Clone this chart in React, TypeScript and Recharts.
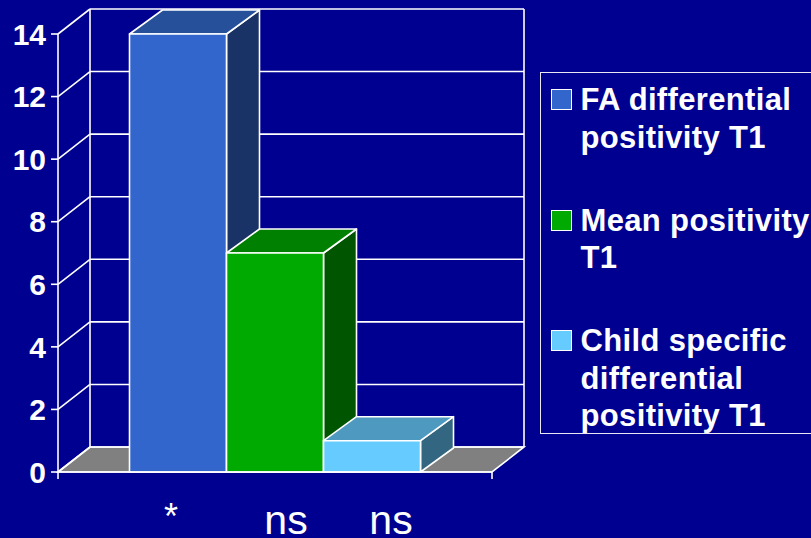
import { BarChart, Bar, XAxis, YAxis, CartesianGrid, Legend } from 'recharts';

const categories = ['T1'];
const faDifferential = [14];
const meanPositivity = [7];
const childSpecific = [1];
const yTicks = [0, 2, 4, 6, 8, 10, 12, 14];
const noteLabels = ['*', 'ns', 'ns'];

const data = categories.map((name, i) => ({
  name,
  fa: faDifferential[i],
  mean: meanPositivity[i],
  child: childSpecific[i],
}));

const BG = '#000090';
const LINE = '#ffffff';
const DX = 33;
const DY = 24;

function Bar3D(props: any) {
  const { x, y, width, height, fill, topFill, sideFill } = props;
  const top = `${x},${y} ${x + DX},${y - DY} ${x + width + DX},${y - DY} ${x + width},${y}`;
  const side = `${x + width},${y} ${x + width + DX},${y - DY} ${x + width + DX},${y + height - DY} ${x + width},${y + height}`;
  return (
    <g stroke={LINE} strokeWidth={1.6} strokeLinejoin="round">
      <polygon points={side} fill={sideFill} />
      <polygon points={top} fill={topFill} />
      <rect x={x} y={y} width={width} height={height} fill={fill} />
    </g>
  );
}

// back wall, side wall and floor follow the value axis gridlines
function WallLine(props: any) {
  const { x1, x2, y1, index } = props;
  const isFloor = y1 > 460;
  const isTop = y1 < 40;
  return (
    <g key={index} stroke={LINE} strokeWidth={1.6} fill="none">
      {isFloor && (
        <>
          <polygon
            points={`${x1},${y1} ${x1 + 32},${y1 - 25} ${x2 + 32},${y1 - 25} ${x2},${y1}`}
            fill="#808080"
          />
          <line x1={x2} y1={y1} x2={x2} y2={y1 + 7} />
          <line x1={x1} y1={y1} x2={x1} y2={y1 + 7} />
        </>
      )}
      {isTop && (
        <>
          <line x1={x1 + 32} y1={y1 - 25} x2={x1 + 32} y2={447} />
          <line x1={x2 + 32} y1={y1 - 25} x2={x2 + 32} y2={447} />
        </>
      )}
      <line x1={x1} y1={y1} x2={x1 + 32} y2={y1 - 25} />
      <line x1={x1 + 32} y1={y1 - 25} x2={x2 + 32} y2={y1 - 25} />
    </g>
  );
}

function LegendBox({ payload }: any) {
  return (
    <div
      style={{
        boxSizing: 'border-box',
        width: 275,
        height: 362,
        border: '1.5px solid #e8e8f4',
        paddingTop: 8,
        fontFamily: '"Liberation Sans", Arial, sans-serif',
        fontWeight: 700,
        fontSize: 31,
        letterSpacing: 0.35,
        lineHeight: '37.5px',
        color: '#fff',
      }}
    >
      {(payload || []).map((item: any) => (
        <div key={item.value} style={{ display: 'flex', marginBottom: 45.5 }}>
          <span
            style={{
              boxSizing: 'border-box',
              flex: 'none',
              width: 21,
              height: 21,
              marginLeft: 9.5,
              marginTop: 8,
              marginRight: 9,
              background: item.color,
              border: '1px solid #fff',
            }}
          />
          <span style={{ width: 234, whiteSpace: 'normal' }}>{item.value}</span>
        </div>
      ))}
    </div>
  );
}

export default function App() {
  return (
    <div
      style={{
        position: 'absolute',
        left: 0,
        top: 0,
        width: 811,
        height: 538,
        background: BG,
        overflow: 'hidden',
      }}
    >
      <BarChart
        width={811}
        height={538}
        data={data}
        margin={{ top: 34, right: 319, bottom: 0, left: 0 }}
        barCategoryGap={71.5}
        barGap={0}
      >
        <CartesianGrid vertical={false} horizontal={(p: any) => <WallLine {...p} />} />
        <XAxis
          dataKey="name"
          height={66}
          tick={false}
          tickLine={false}
          axisLine={{ stroke: LINE, strokeWidth: 1.6 }}
        />
        <YAxis
          width={58}
          domain={[0, 14]}
          ticks={yTicks}
          interval={0}
          tickSize={7}
          tickMargin={5}
          tickLine={{ stroke: LINE, strokeWidth: 1.6 }}
          axisLine={{ stroke: LINE, strokeWidth: 1.6 }}
          tick={{
            fill: '#fff',
            fontSize: 30,
            fontWeight: 700,
            fontFamily: '"Liberation Sans", Arial, sans-serif',
          }}
        />
        <Legend
          layout="horizontal"
          verticalAlign="middle"
          itemSorter={null}
          content={<LegendBox />}
          wrapperStyle={{ left: 540, top: 72, width: 275, height: 362 }}
        />
        <Bar
          dataKey="fa"
          name="FA differential positivity T1"
          fill="#3366CC"
          isAnimationActive={false}
          shape={(p: any) => <Bar3D {...p} topFill="#265099" sideFill="#1A3366" />}
        />
        <Bar
          dataKey="mean"
          name="Mean positivity T1"
          fill="#00AA00"
          isAnimationActive={false}
          shape={(p: any) => <Bar3D {...p} topFill="#008000" sideFill="#005500" />}
        />
        <Bar
          dataKey="child"
          name="Child specific differential positivity T1"
          fill="#66CCFF"
          isAnimationActive={false}
          shape={(p: any) => <Bar3D {...p} topFill="#4D99BF" sideFill="#336680" />}
        />
        <g fill="#fff" fontFamily='"Liberation Sans", Arial, sans-serif' textAnchor="middle">
          <text x={171} y={529} fontSize={36}>{noteLabels[0]}</text>
          <text x={286} y={534} fontSize={41}>{noteLabels[1]}</text>
          <text x={391} y={534} fontSize={41}>{noteLabels[2]}</text>
        </g>
      </BarChart>
    </div>
  );
}
